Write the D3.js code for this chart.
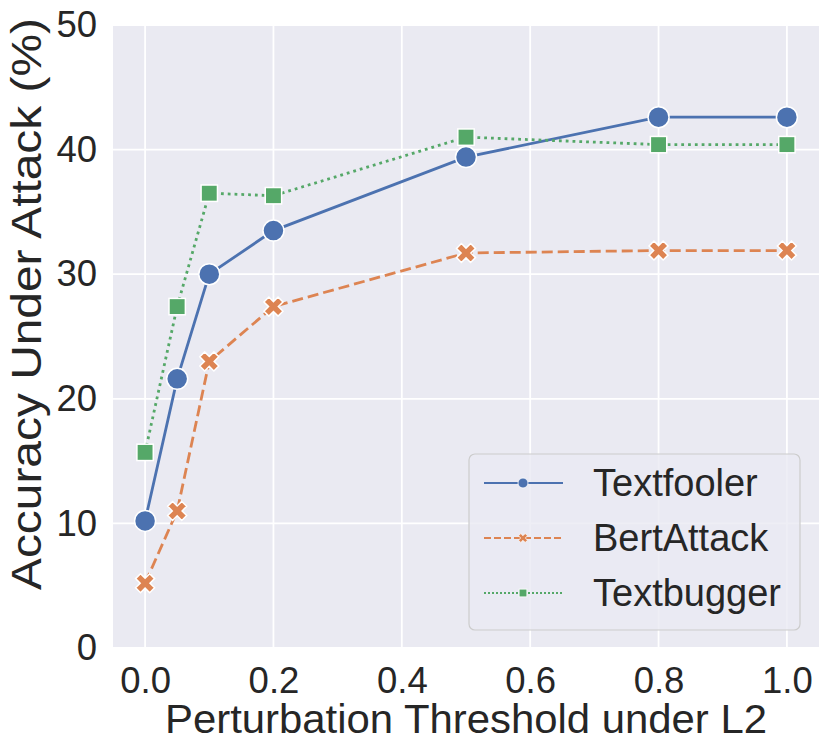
<!DOCTYPE html>
<html lang="en">
<head>
    <meta charset="UTF-8">
    <title>accuracy under attack</title>
    <script type="text/javascript" src="https://d3js.org/d3.v7.min.js"></script>
    <style>
        body { margin: 0; background: #fff; }
        text { font-family: "Liberation Sans", Arial, sans-serif; fill: #262626; }
    </style>
</head>
<body>
<svg class="chart"></svg>

<script type="text/javascript">

    const width = 830;
    const height = 753;

    // data
    const thresholds = [0.0, 0.05, 0.1, 0.2, 0.5, 0.8, 1.0];
    const textfooler = [10.2, 21.6, 30.0, 33.5, 39.4, 42.6, 42.6];
    const bertattack = [5.2, 11.0, 23.0, 27.4, 31.7, 31.9, 31.9];
    const textbugger = [15.7, 27.4, 36.5, 36.3, 41.0, 40.4, 40.4];
    const seriesNames = ["Textfooler", "BertAttack", "Textbugger"];
    const xTicks = [0.0, 0.2, 0.4, 0.6, 0.8, 1.0];
    const yTicks = [0, 10, 20, 30, 40, 50];

    const plot = {left: 113, right: 819, top: 25, bottom: 648};

    let svg = d3.select(".chart")
        .attr("width", width)
        .attr("height", height);

    let scaleX = d3.scaleLinear()
        .domain([-0.05, 1.05])
        .range([plot.left, plot.right]);

    let scaleY = d3.scaleLinear()
        .domain([0, 50])
        .range([plot.bottom, plot.top]);

    const colors = ["#4C72B0", "#DD8452", "#55A868"];
    const dashes = [null, "11,5", "2.8,4"];
    const lw = 2.8;

    // X marker: a plus turned 45 degrees
    function xMarker(s, t) {
        let pts = [[t, s], [t, t], [s, t], [s, -t], [t, -t], [t, -s], [-t, -s], [-t, -t], [-s, -t], [-s, t], [-t, t], [-t, s]];
        let c = Math.SQRT1_2;
        return "M" + pts.map(p => [(p[0] - p[1]) * c, (p[0] + p[1]) * c].join(",")).join("L") + "Z";
    }

    function drawMarker(g, kind, x, y, size, color, edge) {
        if (kind === 0) {
            g.append("circle").attr("cx", x).attr("cy", y).attr("r", size)
                .attr("fill", color).attr("stroke", "#fff").attr("stroke-width", edge);
        } else if (kind === 1) {
            g.append("path").attr("d", xMarker(size * 0.95, size * 0.33))
                .attr("transform", "translate(" + x + "," + y + ")")
                .attr("fill", color).attr("stroke", "#fff").attr("stroke-width", edge);
        } else {
            let h = size * 0.78;
            g.append("rect").attr("x", x - h).attr("y", y - h).attr("width", 2 * h).attr("height", 2 * h)
                .attr("fill", color).attr("stroke", "#fff").attr("stroke-width", edge);
        }
    }

    function drawChart(svg) {
        // background
        svg.append("rect")
            .attr("x", plot.left).attr("y", plot.top)
            .attr("width", plot.right - plot.left).attr("height", plot.bottom - plot.top)
            .attr("fill", "#EAEAF2");

        let grid = svg.append("g");
        grid.selectAll(".gx").data(xTicks).enter().append("line")
            .attr("x1", d => scaleX(d)).attr("x2", d => scaleX(d))
            .attr("y1", plot.top).attr("y2", plot.bottom)
            .attr("stroke", "#fff").attr("stroke-width", 1.8);
        grid.selectAll(".gy").data(yTicks).enter().append("line")
            .attr("y1", d => scaleY(d)).attr("y2", d => scaleY(d))
            .attr("x1", plot.left).attr("x2", plot.right)
            .attr("stroke", "#fff").attr("stroke-width", 1.8);

        // tick labels
        let xAxis = d3.axisBottom(scaleX).tickValues(xTicks).tickFormat(d3.format(".1f")).tickSize(0).tickPadding(19);
        let gx = svg.append("g").attr("transform", "translate(0," + plot.bottom + ")").call(xAxis);
        gx.select(".domain").remove();
        gx.selectAll("text").attr("font-size", 36.5).attr("fill", "#262626")
            .style("font-family", "'Liberation Sans', Arial, sans-serif");

        let yAxis = d3.axisLeft(scaleY).tickValues(yTicks).tickFormat(d3.format("d")).tickSize(0).tickPadding(16);
        let gy = svg.append("g").attr("transform", "translate(" + plot.left + ",0)").call(yAxis);
        gy.select(".domain").remove();
        gy.selectAll("text").attr("font-size", 36.5).attr("fill", "#262626")
            .style("font-family", "'Liberation Sans', Arial, sans-serif");

        // axis titles
        svg.append("text")
            .attr("x", 466).attr("y", 733)
            .attr("text-anchor", "middle").attr("font-size", 40)
            .attr("textLength", 602).attr("lengthAdjust", "spacingAndGlyphs")
            .text("Perturbation Threshold under L2");
        svg.append("text")
            .attr("transform", "translate(41,304) rotate(-90)")
            .attr("text-anchor", "middle").attr("font-size", 43)
            .attr("textLength", 572).attr("lengthAdjust", "spacingAndGlyphs")
            .text("Accuracy Under Attack (%)");

        // lines and markers
        let all = [textfooler, bertattack, textbugger];
        let line = d3.line().x((d, i) => scaleX(thresholds[i])).y(d => scaleY(d));
        all.forEach(function (vals, k) {
            svg.append("path").datum(vals)
                .attr("d", line)
                .attr("fill", "none")
                .attr("stroke", colors[k])
                .attr("stroke-width", lw)
                .attr("stroke-dasharray", dashes[k]);
        });
        all.forEach(function (vals, k) {
            let g = svg.append("g");
            vals.forEach(function (v, i) {
                drawMarker(g, k, scaleX(thresholds[i]), scaleY(v), 10.5, colors[k], 1.5);
            });
        });

        // legend
        let lg = svg.append("g");
        lg.append("rect")
            .attr("x", 469).attr("y", 454).attr("width", 331).attr("height", 176)
            .attr("rx", 6).attr("fill", "#EAEAF2").attr("fill-opacity", 0.8)
            .attr("stroke", "#CCCCCC").attr("stroke-width", 1.2);
        seriesNames.forEach(function (name, k) {
            let y = 483 + k * 55;
            lg.append("line").attr("x1", 484).attr("x2", 563).attr("y1", y).attr("y2", y)
                .attr("stroke", colors[k]).attr("stroke-width", 2)
                .attr("stroke-dasharray", k === 1 ? "7,3" : (k === 2 ? "2,2" : null));
            drawMarker(lg, k, 523, y, 5, colors[k], 0.8);
            lg.append("text").attr("x", 593).attr("y", y + 13)
                .attr("font-size", 38).text(name);
        });
    }

    drawChart(svg);

</script>

</body>
</html>
